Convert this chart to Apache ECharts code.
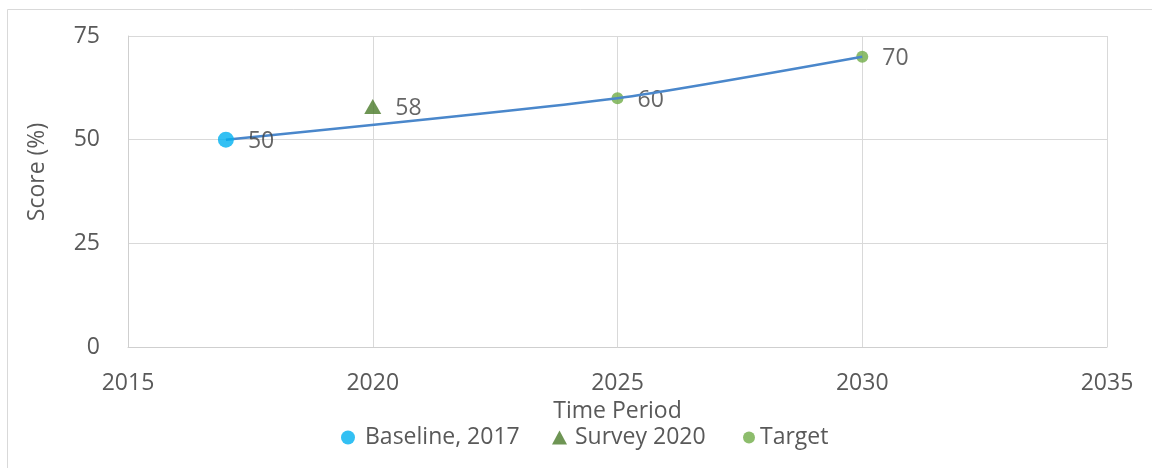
<!DOCTYPE html>
<html>
<head>
<meta charset="utf-8">
<title>Score over time</title>
<script src="https://cdn.jsdelivr.net/npm/echarts@6/dist/echarts.min.js"></script>
<style>
  html, body { margin: 0; padding: 0; background: #ffffff; }
  #chart { width: 1152px; height: 468px; }
</style>
</head>
<body>
<div id="chart"></div>
<script>
// Observed and target scores (year, score %)
const baselinePoints = [[2017, 50]];
const surveyPoints = [[2020, 58]];
const targetPoints = [[2025, 60], [2030, 70]];
// Trajectory from the baseline through the targets
const trajectoryPoints = [[2017, 50], [2025, 60], [2030, 70]];

const xTicks = { min: 2015, max: 2035, step: 5 };
const yTicks = { min: 0, max: 75, step: 25 };

const seriesNames = ['Baseline, 2017', 'Survey 2020', 'Target'];
const xTitle = 'Time Period';
const yTitle = 'Score (%)';

const FONT = '"Open Sans", sans-serif';
const TICK_COLOR = '#595959';
const LABEL_COLOR = '#404040';
const GRID_COLOR = '#D9D9D9';

const chart = echarts.init(document.getElementById('chart'), null, { renderer: 'canvas' });

const pointLabel = {
  show: true,
  position: 'right',
  distance: 14,
  offset: [0, 2],
  fontFamily: FONT,
  fontSize: 23,
  color: LABEL_COLOR,
  formatter: p => p.value[1]
};

function singleLegend(name, left, w, h, icon, extraPad) {
  return {
    data: [{ name: name, icon: icon }],
    left: left,
    top: 426,
    padding: 0,
    itemWidth: w,
    itemHeight: h,
    textStyle: {
      fontFamily: FONT,
      fontSize: 23,
      color: TICK_COLOR,
      padding: [0, 0, 0, extraPad]
    },
    selectedMode: false
  };
}

chart.setOption({
  backgroundColor: '#ffffff',
  animation: false,
  graphic: [
    {
      type: 'rect',
      shape: { x: 7.5, y: 9.5, width: 1160, height: 470 },
      style: { fill: 'none', stroke: GRID_COLOR, lineWidth: 1 },
      silent: true
    },
    {
      type: 'text',
      x: 37,
      y: 172,
      rotation: Math.PI / 2,
      style: {
        text: yTitle,
        x: 0,
        y: 0,
        align: 'center',
        verticalAlign: 'middle',
        fontFamily: FONT,
        fontSize: 23,
        fill: TICK_COLOR
      },
      silent: true
    }
  ],
  grid: { left: 128, right: 45, top: 36, bottom: 121, containLabel: false },
  legend: [
    singleLegend(seriesNames[0], 341, 14, 14, 'circle', 5),
    singleLegend(seriesNames[1], 552, 15, 14, 'triangle', 3),
    singleLegend(seriesNames[2], 743, 12, 12, 'circle', 0)
  ],
  xAxis: {
    type: 'value',
    min: xTicks.min,
    max: xTicks.max,
    interval: xTicks.step,
    name: xTitle,
    nameLocation: 'middle',
    nameGap: 53,
    nameTextStyle: { fontFamily: FONT, fontSize: 23, color: TICK_COLOR },
    axisLine: { show: true, lineStyle: { color: '#CFCFCF', width: 1 } },
    axisTick: { show: false },
    splitLine: { show: true, lineStyle: { color: GRID_COLOR, width: 1 } },
    axisLabel: {
      margin: 25,
      fontFamily: FONT,
      fontSize: 23,
      color: TICK_COLOR,
      formatter: v => String(v)
    }
  },
  yAxis: {
    type: 'value',
    min: yTicks.min,
    max: yTicks.max,
    interval: yTicks.step,
    axisLine: { show: true, lineStyle: { color: '#CFCFCF', width: 1 } },
    axisTick: { show: false },
    splitLine: { show: true, lineStyle: { color: GRID_COLOR, width: 1 } },
    axisLabel: {
      margin: 28,
      fontFamily: FONT,
      fontSize: 23,
      color: TICK_COLOR
    }
  },
  series: [
    {
      name: seriesNames[2],
      type: 'scatter',
      data: targetPoints,
      symbol: 'circle',
      symbolSize: 12,
      itemStyle: { color: '#70AD47' },
      label: pointLabel,
      z: 2
    },
    {
      name: 'Trajectory',
      type: 'line',
      data: trajectoryPoints,
      smooth: 0.2,
      showSymbol: false,
      symbol: 'none',
      lineStyle: { color: '#4A87CB', width: 2.5 },
      z: 3
    },
    {
      name: seriesNames[0],
      type: 'scatter',
      data: baselinePoints,
      symbol: 'circle',
      symbolSize: 16,
      itemStyle: { color: '#00B0F0' },
      label: pointLabel,
      z: 4
    },
    {
      name: seriesNames[1],
      type: 'scatter',
      data: surveyPoints,
      symbol: 'triangle',
      symbolSize: [17, 15],
      itemStyle: { color: '#4A7A29' },
      label: pointLabel,
      z: 4
    }
  ]
});
</script>
</body>
</html>
